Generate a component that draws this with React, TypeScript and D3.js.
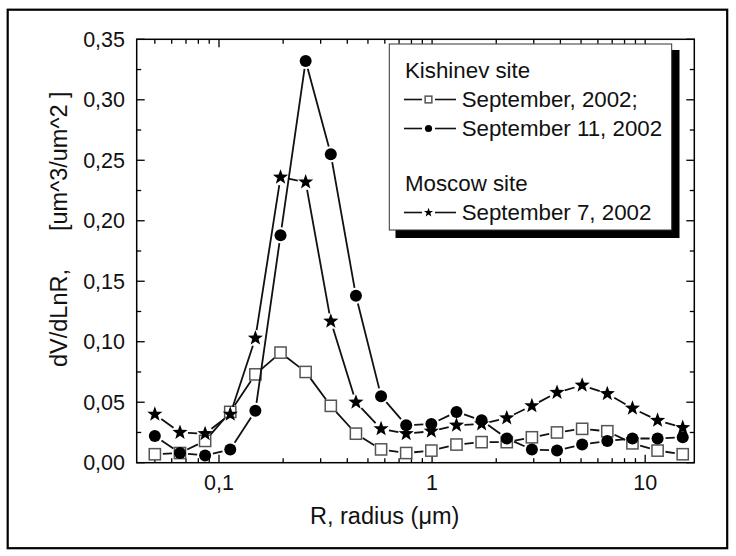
import React from "react";
import * as d3 from "d3";

const radius = [0.05, 0.065604, 0.086077, 0.112939, 0.148184, 0.194429, 0.255105, 0.334716, 0.439173, 0.576227, 0.756052, 0.991996, 1.301571, 1.707757, 2.240702, 2.939966, 3.857452, 5.06126, 6.640745, 8.713145, 11.432287, 15.0];
const kishinevSep2002 = [0.007, 0.008, 0.018, 0.042, 0.073, 0.091, 0.075, 0.047, 0.024, 0.011, 0.008, 0.010, 0.015, 0.017, 0.017, 0.021, 0.025, 0.028, 0.026, 0.016, 0.010, 0.007];
const kishinevSep11 = [0.022, 0.008, 0.006, 0.011, 0.043, 0.188, 0.332, 0.255, 0.138, 0.055, 0.031, 0.032, 0.042, 0.035, 0.020, 0.011, 0.010, 0.015, 0.018, 0.020, 0.020, 0.021];
const moscowSep7 = [0.040, 0.025, 0.024, 0.040, 0.103, 0.236, 0.232, 0.117, 0.050, 0.028, 0.024, 0.026, 0.031, 0.032, 0.037, 0.047, 0.058, 0.064, 0.057, 0.045, 0.035, 0.029];
const yTickValues = [0, 0.05, 0.1, 0.15, 0.2, 0.25, 0.3, 0.35];
const xTickLabels = ["0,1", "1", "10"];
const xMajorValues = [0.1, 1, 10];

const FONT = "'Liberation Sans', Arial, Helvetica, sans-serif";

const left = 136.7, right = 694.3, top = 39.3, bottom = 462.7;
const x = d3.scaleLog().domain([0.0411, 17.0]).range([left, right]);
const y = d3.scaleLinear().domain([0, 0.35]).range([bottom, top]);
const fmt = d3.formatLocale({ decimal: ",", thousands: ".", grouping: [3], currency: ["", ""] }).format(".2f");

function starPath(cx: number, cy: number, ro: number, ri: number) {
  const pts: string[] = [];
  for (let i = 0; i < 10; i++) {
    const r = i % 2 === 0 ? ro : ri;
    const a = -Math.PI / 2 + (i * Math.PI) / 5;
    pts.push(`${(cx + r * Math.cos(a)).toFixed(2)},${(cy + r * Math.sin(a)).toFixed(2)}`);
  }
  return "M" + pts.join("L") + "Z";
}

function Marker({ kind, cx, cy, s = 1 }: { kind: string; cx: number; cy: number; s?: number }) {
  if (kind === "square") {
    const h = 5.6 * s;
    return <rect x={cx - h} y={cy - h} width={2 * h} height={2 * h} fill="#fff" stroke="#555" strokeWidth={1.5} />;
  }
  if (kind === "circle") return <circle cx={cx} cy={cy} r={6 * s} fill="#000" />;
  return <path d={starPath(cx, cy, 8 * s, 3.3 * s)} fill="#000" />;
}

function Series({ values, kind }: { values: number[]; kind: string }) {
  const pts = values.map((v, i) => [x(radius[i]), y(v)] as [number, number]);
  const gap = 8;
  const segs: string[] = [];
  for (let i = 0; i < pts.length - 1; i++) {
    const [x1, y1] = pts[i];
    const [x2, y2] = pts[i + 1];
    const L = Math.hypot(x2 - x1, y2 - y1);
    if (L <= 2 * gap) continue;
    const ux = (x2 - x1) / L, uy = (y2 - y1) / L;
    segs.push(`M${x1 + ux * gap},${y1 + uy * gap}L${x2 - ux * gap},${y2 - uy * gap}`);
  }
  return (
    <g>
      <path d={segs.join("")} stroke="#111" strokeWidth={1.8} fill="none" />
      {pts.map((p, i) => <Marker key={i} kind={kind} cx={p[0]} cy={p[1]} />)}
    </g>
  );
}

export default function App() {
  const xTicks = x.ticks();
  const isMajor = (t: number) => Math.abs(Math.log10(t) - Math.round(Math.log10(t))) < 1e-9;
  const yMinor = d3.range(0.025, 0.35, 0.05);
  const legendRows = [
    { kind: "square", label: "September, 2002;", base: 107 },
    { kind: "circle", label: "September 11, 2002", base: 136 },
    { kind: "star", label: "September 7, 2002", base: 220 },
  ];
  return (
    <svg width={736} height={556} style={{ position: "absolute", left: 0, top: 0 }} fontFamily={FONT}>
      <rect x={0} y={0} width={736} height={556} fill="#fff" />
      <rect x={7.7} y={9.7} width={719.5} height={538.5} fill="none" stroke="#000" strokeWidth={2.2} />

      <g stroke="#000" strokeWidth={1.3}>
        {xTicks.map((t, i) => {
          const len = isMajor(t) ? 8 : 4.5;
          const px = x(t);
          return (
            <g key={i}>
              <line x1={px} x2={px} y1={bottom} y2={bottom - len} />
              <line x1={px} x2={px} y1={top} y2={top + len} />
            </g>
          );
        })}
        {yTickValues.map((t, i) => (
          <g key={i}>
            <line x1={left} x2={left + 8} y1={y(t)} y2={y(t)} />
            <line x1={right} x2={right - 8} y1={y(t)} y2={y(t)} />
          </g>
        ))}
        {yMinor.map((t, i) => (
          <g key={i}>
            <line x1={left} x2={left + 4.5} y1={y(t)} y2={y(t)} />
            <line x1={right} x2={right - 4.5} y1={y(t)} y2={y(t)} />
          </g>
        ))}
      </g>

      <Series values={kishinevSep2002} kind="square" />
      <Series values={moscowSep7} kind="star" />
      <Series values={kishinevSep11} kind="circle" />

      <rect x={left} y={top} width={right - left} height={bottom - top} fill="none" stroke="#000" strokeWidth={1.5} />

      <g fontSize={21.5} fill="#111">
        {yTickValues.map((t, i) => (
          <text key={i} x={125} y={y(t) + 7.6} textAnchor="end">{fmt(t)}</text>
        ))}
        {xMajorValues.map((t, i) => (
          <text key={i} x={x(t)} y={490} textAnchor="middle">{xTickLabels[i]}</text>
        ))}
      </g>

      <text x={310} y={524} fontSize={23.5} fill="#111">R, radius (μm)</text>
      <text transform="translate(67,367) rotate(-90)" fontSize={23.5} fill="#111">
        <tspan>dV/dLnR,</tspan>
        <tspan dx={38}>[um^3/um^2 ]</tspan>
      </text>

      <rect x={395.5} y={50} width={284} height={188} fill="#000" />
      <rect x={389.3} y={44} width={282.4} height={186} fill="#fff" stroke="#333" strokeWidth={1} />
      <g fontSize={22.3} fill="#111">
        <text x={405} y={78.3}>Kishinev site</text>
        <text x={405} y={191}>Moscow site</text>
        {legendRows.map((r, i) => {
          const cy = r.base - 7.5;
          return (
            <g key={i}>
              <line x1={404} x2={422} y1={cy} y2={cy} stroke="#111" strokeWidth={1.6} />
              <line x1={435} x2={456} y1={cy} y2={cy} stroke="#111" strokeWidth={1.6} />
              <Marker kind={r.kind} cx={428.5} cy={cy} s={0.6} />
              <text x={461.7} y={r.base}>{r.label}</text>
            </g>
          );
        })}
      </g>
    </svg>
  );
}
